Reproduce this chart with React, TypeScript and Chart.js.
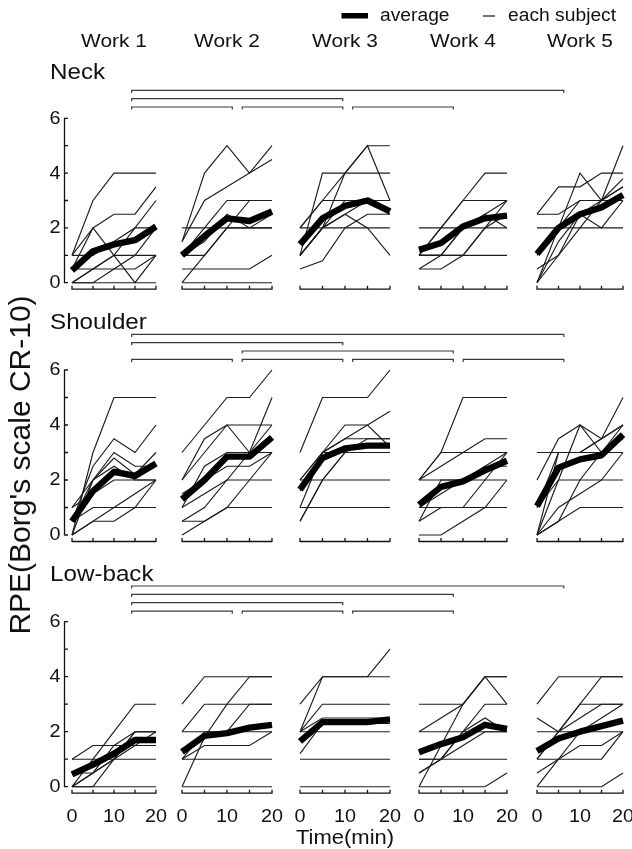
import React, { useEffect, useRef } from 'react';
import { Chart, registerables } from 'chart.js';

Chart.register(...registerables);

// ---------------- data ----------------
const minutes = [0, 5, 10, 15, 20];
const workNames = ['Work 1', 'Work 2', 'Work 3', 'Work 4', 'Work 5'];
const regionNames = ['Neck', 'Shoulder', 'Low-back'];
const yTickValues = [0, 1, 2, 3, 4, 5, 6];
const yTickLabels = ['0', '', '2', '', '4', '', '6'];
const xTickLabels = ['0', '', '10', '', '20'];
const legendLabels = ['average', 'each subject'];
const xAxisTitle = 'Time(min)';
const yAxisTitle = "RPE(Borg's scale CR-10)";

// average RPE per work (rows = Work 1..5, columns = minutes)
const neckAverage = [
  [0.45, 1.15, 1.4, 1.55, 2.05],
  [1.0, 1.7, 2.35, 2.25, 2.6],
  [1.4, 2.35, 2.8, 3.0, 2.6],
  [1.2, 1.45, 2.05, 2.35, 2.45],
  [1.05, 2.0, 2.5, 2.75, 3.2],
];
const shoulderAverage = [
  [0.5, 1.6, 2.3, 2.15, 2.6],
  [1.3, 2.0, 2.85, 2.85, 3.55],
  [1.65, 2.8, 3.15, 3.25, 3.25],
  [1.1, 1.75, 1.95, 2.35, 2.7],
  [1.05, 2.45, 2.75, 2.9, 3.65],
];
const lowbackAverage = [
  [0.45, 0.8, 1.2, 1.7, 1.7],
  [1.27, 1.85, 1.95, 2.15, 2.25],
  [1.65, 2.35, 2.35, 2.35, 2.45],
  [1.25, 1.55, 1.8, 2.25, 2.1],
  [1.3, 1.75, 2.0, 2.2, 2.4],
];

// each subject
const neckWork1 = [
  [1, 3, 4, 4, 4], [1, 2, 2.5, 2.5, 3.5], [0, 0.5, 1, 2, 3], [0.5, 2, 1, 0, 1],
  [0.5, 0.5, 0.5, 0.5, 1], [0, 0.5, 1, 1, 1], [0, 0, 0.5, 1, 2], [0, 0, 0, 0, 0], [1, 1, 1.5, 2, 2],
];
const neckWork2 = [
  [1.5, 4, 5, 4, 5], [1.5, 3, 3.5, 4, 4.5], [2, 2, 2, 2, 2], [1, 1, 2, 2, 2],
  [1, 2, 3, 3, 3], [0, 1, 2, 3, 3], [0.5, 0.5, 0.5, 0.5, 1], [0, 0, 0, 0, 0], [1, 1.5, 2.5, 2, 2.5],
];
const neckWork3 = [
  [1, 4, 4, 4, 4], [1, 2, 4, 5, 5], [2, 3, 4, 5, 3], [2, 3, 3, 3, 3],
  [2, 2, 2, 2, 2], [1, 2, 2.5, 3, 2.5], [0.5, 0.8, 2, 2.5, 2.5], [1, 2, 2.5, 2, 1], [1, 2, 3, 3, 3],
];
const neckWork4 = [
  [2, 2, 2, 2, 2], [1, 1, 1, 1, 1], [1, 2, 3, 4, 4], [0.5, 0.5, 1, 2, 3],
  [1, 2, 3, 3, 3], [1, 1, 2, 2.5, 3], [0.5, 1, 2, 2.5, 2], [1, 1, 1, 2, 2.5],
];
const neckWork5 = [
  [2.5, 3.5, 3.5, 4, 4], [2.5, 2.5, 3, 3, 3.5], [2, 2, 2, 2, 2], [0, 2, 4, 3, 5],
  [0, 1, 2.5, 3, 3.5], [0.5, 1, 2, 3, 3.8], [1, 2, 3, 3, 3], [0, 1.5, 2.5, 2, 3],
];
const shoulderWork1 = [
  [0, 3, 5, 5, 5], [0.5, 2.5, 3.5, 3, 4], [0.5, 2, 3, 2.5, 2.5], [0, 2, 2.8, 2.2, 3],
  [1, 1.5, 2, 2, 2], [0, 0.5, 0.5, 1, 2], [0.5, 1, 1, 1, 1], [0, 0.5, 1, 1.5, 2], [1, 2, 2.5, 2, 2],
];
const shoulderWork2 = [
  [3, 4, 5, 5, 6], [2, 3.5, 4, 3, 5], [2, 3, 4, 4, 4], [1, 2.5, 3, 3, 3],
  [0.5, 1, 2, 2, 2], [0.5, 0.5, 1, 1, 1], [0, 0.5, 1, 2, 3], [1.5, 2, 2.5, 2.5, 3], [1, 1.5, 2, 3, 4],
];
const shoulderWork3 = [
  [3, 5, 5, 5, 6], [2, 3, 3.5, 4, 4.5], [2, 3, 4, 4, 3.2], [2, 2, 2, 2, 2],
  [1.6, 3, 3, 3, 3], [0.5, 2, 3, 3, 3], [0.5, 2, 3, 3.5, 3.5], [1, 3, 3.5, 3.5, 3.5], [1, 1, 1, 1, 1],
];
const shoulderWork4 = [
  [2, 3, 5, 5, 5], [2, 2.5, 3, 3.5, 3.5], [2, 3, 3, 3, 3], [2, 2, 2, 2, 2],
  [1, 1, 1, 1, 1], [0.5, 1, 1, 2, 3], [0, 0, 0.5, 1, 2], [1, 1.5, 2, 2.5, 3], [0.5, 2, 2, 2.5, 2.5],
];
const shoulderWork5 = [
  [3, 3, 3, 3, 3], [2, 3.5, 4, 3.5, 5], [0, 2, 4, 3, 4], [0, 3, 3, 3.5, 4],
  [1, 2, 2, 2, 3], [0, 1, 1.5, 2, 2], [0, 0.5, 1, 1, 1], [0, 0.5, 2, 3, 3.5], [1, 3, 3, 3.5, 4],
];
const lowbackWork1 = [
  [0, 1, 2, 3, 3], [0, 0, 1, 2, 2], [1, 1.5, 1.5, 1.5, 1.5], [1, 1, 1, 1, 1],
  [0, 0, 0, 0, 0], [0, 0.5, 1, 2, 2], [0.5, 0.5, 1, 1.5, 2], [0, 0.5, 1.5, 2, 2],
];
const lowbackWork2 = [
  [3, 4, 4, 4, 4], [2, 3, 3, 3, 3], [0, 1.8, 3, 4, 4], [2, 2, 2, 3, 3],
  [1, 1.5, 1.5, 1.5, 2], [1, 1, 1, 1, 1], [0, 0, 0, 0, 0], [1, 2, 2, 2, 2],
];
const lowbackWork3 = [
  [3, 4, 4, 4, 5], [2, 4, 4, 4, 4], [2, 3, 3, 3, 3], [2, 2, 2, 2, 2],
  [1, 1, 1, 1, 1], [0, 0, 0, 0, 0], [2, 2.5, 2.5, 2.5, 2.5], [1.2, 2.3, 2.3, 2.3, 2.3],
];
const lowbackWork4 = [
  [3, 3, 3, 4, 4], [2, 2.5, 3, 4, 3], [0, 1.5, 3, 4, 4], [0.5, 1, 2, 3, 3],
  [2, 2, 2, 2, 2], [1, 1, 1, 1, 1], [0, 0, 0, 0, 0.5], [0.5, 1, 1.5, 2, 2], [1, 1, 2, 2.5, 2],
];
const lowbackWork5 = [
  [3, 4, 4, 4, 4], [2, 2, 3, 3, 3], [2.5, 2, 2.5, 3, 3], [1, 2, 3, 4, 4],
  [1, 1, 1, 1, 2], [0, 0, 0, 0, 0.5], [0.5, 1, 1.5, 1.5, 2], [0, 1, 2, 2, 2], [1, 2, 2, 2.5, 3],
];

// significance brackets: per bracket row, pairs [from work, to work]
const neckBrackets = [[[0, 4]], [[0, 2]], [[0, 1], [1, 2], [2, 3]]];
const shoulderBrackets = [[[0, 4]], [[0, 2]], [[1, 3]], [[0, 1], [1, 2], [2, 3], [3, 4]]];
const lowbackBrackets = [[[0, 4]], [[0, 3]], [[0, 2]], [[0, 1], [1, 2], [2, 3]]];

const regionAverages = [neckAverage, shoulderAverage, lowbackAverage];
const regionSubjects = [
  [neckWork1, neckWork2, neckWork3, neckWork4, neckWork5],
  [shoulderWork1, shoulderWork2, shoulderWork3, shoulderWork4, shoulderWork5],
  [lowbackWork1, lowbackWork2, lowbackWork3, lowbackWork4, lowbackWork5],
];
const regionBrackets = [neckBrackets, shoulderBrackets, lowbackBrackets];

// ---------------- layout ----------------
const FONT = '"Liberation Sans", Arial, Helvetica, sans-serif';
const INK = '#111';
const STRETCH = 1.1;
const PANEL_LEFT = [72, 182, 300, 419, 537];
const PANEL_RIGHT = [156, 272, 390, 507, 623];
const ROW_TOP = [118.3, 370, 621.7];
const ROW_ZERO = [282.7, 535, 786.7];
const AXIS_DROP = 6.5;
const YAXIS_GAP = 7.5;
const TICK_LEN = 3.5;
const TICK_FONT = 18;
const BRACKET_TOP = [90.3, 334.3, 586];
const BRACKET_ROW_STEP = 8.35;
const BRACKET_START = 131.7;
const BRACKET_END = 232.3;
const BRACKET_STEP = 110.5;
const TITLE_Y = [72, 321.7, 574];

function geometry(row: number, work: number) {
  const padL0 = work === 0 ? 48 : 14;
  const padR0 = row === 2 ? 16 : 8;
  const padB0 = row === 2 ? 40 : 6;
  const left = Math.floor(PANEL_LEFT[work] - padL0);
  const top = Math.floor(ROW_TOP[row] - 8);
  const right = Math.ceil(PANEL_RIGHT[work] + padR0);
  const axisY = ROW_ZERO[row] + AXIS_DROP;
  const bottom = Math.ceil(axisY + padB0);
  return {
    left, top, w: right - left, h: bottom - top,
    padL: PANEL_LEFT[work] - left,
    padR: right - PANEL_RIGHT[work],
    padT: ROW_TOP[row] - top,
    padB: bottom - axisY,
  };
}

const axesPlugin = {
  id: 'panelAxes',
  afterDatasetsDraw(chart: any, _args: any, opts: any) {
    const { ctx, chartArea } = chart;
    const xs = chart.scales.x;
    const ys = chart.scales.y;
    const yb = chartArea.bottom;
    ctx.save();
    ctx.strokeStyle = INK;
    ctx.fillStyle = INK;
    ctx.lineWidth = 1.3;
    ctx.beginPath();
    ctx.moveTo(xs.getPixelForValue(minutes[0]), yb);
    ctx.lineTo(xs.getPixelForValue(minutes[minutes.length - 1]), yb);
    minutes.forEach((m) => {
      const px = xs.getPixelForValue(m);
      ctx.moveTo(px, yb + 0.6);
      ctx.lineTo(px, yb - TICK_LEN);
    });
    ctx.stroke();
    ctx.font = `${TICK_FONT}px ${FONT}`;
    if (opts.showXLabels) {
      ctx.textAlign = 'center';
      ctx.textBaseline = 'middle';
      minutes.forEach((m, i) => {
        if (!xTickLabels[i]) return;
        ctx.save();
        ctx.translate(xs.getPixelForValue(m), yb + 24);
        ctx.scale(STRETCH, 1);
        ctx.fillText(xTickLabels[i], 0, 0);
        ctx.restore();
      });
    }
    if (opts.showY) {
      const ax = xs.getPixelForValue(0) - YAXIS_GAP;
      ctx.beginPath();
      ctx.moveTo(ax, ys.getPixelForValue(yTickValues[0]) + 0.6);
      ctx.lineTo(ax, ys.getPixelForValue(yTickValues[yTickValues.length - 1]) - 0.6);
      yTickValues.forEach((v) => {
        const py = ys.getPixelForValue(v);
        ctx.moveTo(ax, py);
        ctx.lineTo(ax + TICK_LEN, py);
      });
      ctx.stroke();
      ctx.textAlign = 'right';
      ctx.textBaseline = 'middle';
      yTickValues.forEach((v, i) => {
        if (!yTickLabels[i]) return;
        ctx.save();
        ctx.translate(ax - 4, ys.getPixelForValue(v) + 0.5);
        ctx.scale(STRETCH, 1);
        ctx.fillText(yTickLabels[i], 0, 0);
        ctx.restore();
      });
    }
    ctx.restore();
  },
};

function Panel({ row, work }: { row: number; work: number }) {
  const ref = useRef<HTMLCanvasElement>(null);
  const g = geometry(row, work);
  useEffect(() => {
    const canvas = ref.current;
    if (!canvas) return;
    const ppu = (ROW_ZERO[row] - ROW_TOP[row]) / 6;
    const toPoints = (vals: number[]) => vals.map((v, i) => ({ x: minutes[i], y: v }));
    const avg = regionAverages[row][work];
    const subjects = regionSubjects[row][work];
    const chart = new Chart(canvas, {
      type: 'line',
      data: {
        datasets: [
          {
            label: legendLabels[0],
            data: toPoints(avg),
            borderColor: '#000',
            borderWidth: 6.4,
            borderJoinStyle: 'round',
            borderCapStyle: 'butt',
            pointRadius: 0,
            tension: 0,
            order: 0,
            clip: false,
          } as any,
          ...subjects.map((s) => ({
            label: legendLabels[1],
            data: toPoints(s),
            borderColor: '#1c1c1c',
            borderWidth: 1.15,
            pointRadius: 0,
            tension: 0,
            order: 1,
            clip: false,
          })),
        ],
      },
      options: {
        responsive: false,
        maintainAspectRatio: false,
        animation: false,
        devicePixelRatio: 1,
        events: [],
        layout: { padding: { left: g.padL, right: g.padR, top: g.padT, bottom: g.padB } },
        scales: {
          x: { type: 'linear', min: minutes[0], max: minutes[minutes.length - 1], display: false },
          y: { type: 'linear', min: -AXIS_DROP / ppu, max: 6, display: false },
        },
        plugins: {
          legend: { display: false },
          tooltip: { enabled: false },
          panelAxes: { showY: work === 0, showXLabels: row === 2 },
        } as any,
      },
      plugins: [axesPlugin],
    });
    return () => chart.destroy();
  }, [row, work]);
  return (
    <canvas
      ref={ref}
      width={g.w}
      height={g.h}
      style={{ position: 'absolute', left: g.left, top: g.top, width: g.w, height: g.h }}
    />
  );
}

function Text({ x, y, size, children, align = 'center', rotate = false }: any) {
  return (
    <div
      style={{
        position: 'absolute', left: x, top: y, width: 0, height: 0,
        transformOrigin: '0 0',
        transform: rotate ? 'rotate(-90deg)' : `scaleX(${STRETCH})`,
      }}
    >
      <div
        style={{
          position: 'absolute', left: 0, top: 0, whiteSpace: 'nowrap',
          fontFamily: FONT, fontSize: size, lineHeight: 1, color: INK,
          transform: align === 'center' ? 'translate(-50%,-50%)' : 'translate(0,-50%)',
        }}
      >
        {children}
      </div>
    </div>
  );
}

export default function App() {
  const brackets: any[] = [];
  regionBrackets.forEach((rows, r) => {
    rows.forEach((segs: number[][], i: number) => {
      segs.forEach(([a, b]) => {
        const y = BRACKET_TOP[r] + i * BRACKET_ROW_STEP;
        const x1 = BRACKET_START + a * BRACKET_STEP;
        const x2 = BRACKET_END + (b - 1) * BRACKET_STEP;
        brackets.push(
          <path key={`${r}-${i}-${a}-${b}`} d={`M${x1} ${y + 2.6} V${y} H${x2} V${y + 2.6}`} />
        );
      });
    });
  });
  return (
    <div style={{ position: 'absolute', left: 0, top: 0, width: 632, height: 849, background: '#fff', overflow: 'hidden' }}>
      {regionNames.map((_, r) => workNames.map((__, w) => <Panel key={`${r}-${w}`} row={r} work={w} />))}
      <svg width={632} height={849} style={{ position: 'absolute', left: 0, top: 0 }}>
        <g fill="none" stroke="#3a3a3a" strokeWidth={1.2}>{brackets}</g>
        <rect x={341.5} y={13} width={26.5} height={5.5} fill="#000" />
        <line x1={483} x2={495} y1={16} y2={16} stroke={INK} strokeWidth={1.2} />
      </svg>
      <Text x={380} y={15.5} size={17.5} align="left">{legendLabels[0]}</Text>
      <Text x={508} y={15.5} size={17.5} align="left">{legendLabels[1]}</Text>
      {workNames.map((n, w) => (
        <Text key={n} x={(PANEL_LEFT[w] + PANEL_RIGHT[w]) / 2} y={40} size={19}>{n}</Text>
      ))}
      {regionNames.map((n, r) => (
        <Text key={n} x={50} y={TITLE_Y[r]} size={22} align="left">{n}</Text>
      ))}
      <Text x={345} y={837} size={20}>{xAxisTitle}</Text>
      <Text x={20} y={465} size={30} rotate>{yAxisTitle}</Text>
    </div>
  );
}
